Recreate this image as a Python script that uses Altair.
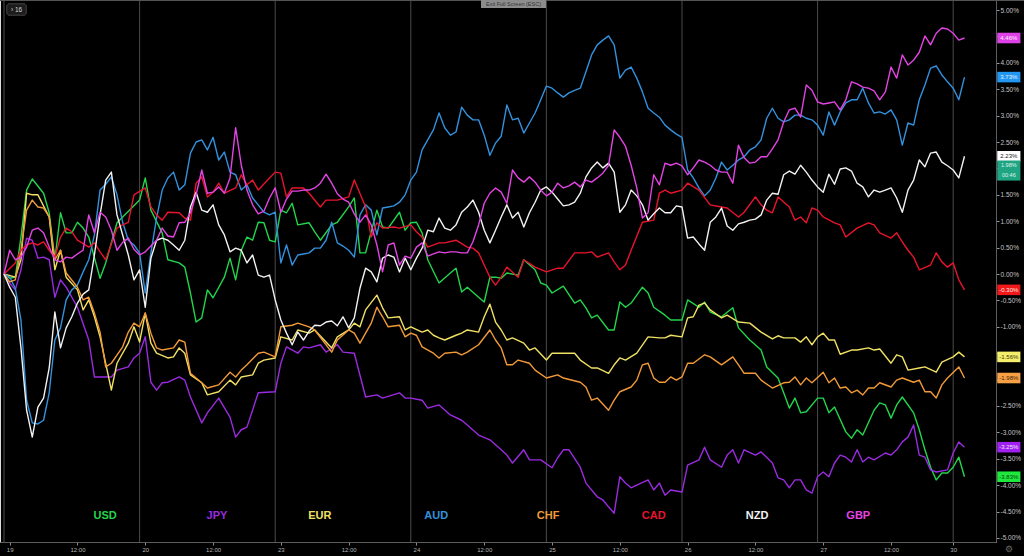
import altair as alt
import pandas as pd

# ---------------- data ----------------
CURRENCIES = ["USD", "JPY", "EUR", "AUD", "CHF", "CAD", "NZD", "GBP"]
LINE_COLORS = ["#22d64b", "#9a2be0", "#f0e064", "#3391dd", "#f29a38", "#e8142c", "#f2f2f2", "#e444e4"]
BOX_COLORS = ["#1ee83c", "#a020f0", "#f5ee6a", "#2196f3", "#f7a044", "#f01818", "#ffffff", "#e040e8"]
BOX_TEXT_COLORS = ["#0b3d12", "#f4e6ff", "#3a3510", "#e8f3ff", "#3d240a", "#ffe8e8", "#222222", "#fff0ff"]
LAST_LABELS = ["-3.83%", "-3.25%", "-1.56%", "3.73%", "-1.98%", "-0.30%", "2.23%", "4.46%"]

X_TICKS = [1, 13, 25, 37, 49, 61, 73, 85, 97, 109, 121, 133, 145, 157, 168]
X_TICK_LABELS = ["19", "12:00", "20", "12:00", "23", "12:00", "24", "12:00", "25", "12:00",
                 "26", "12:00", "27", "12:00", "30"]
DAY_STARTS = [0, 24, 48, 72, 96, 120, 144, 168]
Y_TICKS = [5.0, 4.5, 4.0, 3.5, 3.0, 2.5, 2.0, 1.5, 1.0, 0.5, 0.0,
           -0.5, -1.0, -1.5, -2.0, -2.5, -3.0, -3.5, -4.0, -4.5, -5.0]
# axis labels hidden behind the price boxes in the original
Y_HIDDEN = [4.5, 2.0, -1.5, -2.0]

HOURS_FULL = list(range(171))

USD_h = [0,1,2,3,4,5,7,8,9,10,11,12,13,14,15,17,18,20,24,25,26,28,29,31,32,33,34,35,36,37,
         39,40,41,42,43,44,45,46,47,48,49,50,51,52,54,55,56,58,59,61,62,63,64,66,67,68,70,71,72,73,
         74,75,77,79,80,81,82,84,85,86,87,88,89,91,92,94,95,96,97,99,101,102,103,104,105,107,108,109,110,111,
         113,114,115,117,118,120,121,123,124,125,127,129,130,132,134,135,137,138,139,140,
         141,142,144,145,146,147,149,150,151,152,154,155,156,157,158,159,161,162,163,164,165,166,167,168,169,170]
USD_v = [0.00,-0.08,-0.06,0.70,1.59,1.80,1.53,1.16,0.27,1.16,0.78,0.78,0.98,0.87,0.70,-0.08,0.21,0.97,1.40,1.82,
         1.21,0.78,0.27,0.21,0.13,-0.36,-0.91,-0.83,-0.30,-0.45,-0.06,0.30,-0.11,0.45,0.70,0.64,0.98,0.97,0.64,0.61,
         1.21,1.16,1.34,0.93,0.97,0.80,0.64,0.93,0.98,1.27,1.44,0.40,0.40,1.21,0.89,0.87,1.17,0.83,0.97,0.98,
         0.78,0.27,-0.17,0.02,0.11,-0.34,-0.25,-0.44,-0.53,-0.06,-0.06,-0.08,0.02,-0.02,0.27,0.08,-0.17,-0.21,-0.36,-0.23,
         -0.55,-0.49,-0.64,-0.83,-0.78,-1.06,-1.06,-0.53,-0.63,-0.55,-0.25,-0.36,-0.63,-0.78,-0.87,-0.87,-0.49,-0.63,-0.53,-0.72,
         -0.81,-0.64,-1.02,-1.25,-1.44,-1.76,-1.97,-2.25,-2.54,-2.35,-2.63,-2.61,-2.35,-2.35,-2.63,-2.52,-2.99,-3.11,-2.95,-3.05,
         -2.58,-2.44,-2.48,-2.73,-2.48,-2.33,-2.63,-2.95,-3.33,-3.66,-3.90,-3.77,-3.77,-3.66,-3.47,-3.84]

JPY_h = [0,1,2,3,4,5,6,7,8,9,10,11,13,15,16,19,20,22,23,24,25,26,27,28,29,31,32,33,35,36,
         38,40,41,42,43,45,48,49,50,52,53,54,56,57,59,60,62,64,66,67,70,71,72,74,75,77,79,81,82,84,
         86,88,89,90,92,93,95,97,98,99,100,102,103,105,106,107,108,109,110,111,112,114,115,116,117,118,120,121,123,124,
         125,127,128,129,130,131,133,134,136,137,138,139,140,141,142,143,144,145,146,147,148,149,150,151,152,153,154,156,157,158,
         159,160,161,162,163,164,165,167,168,169,170]
JPY_v = [0.00,-0.17,-0.30,0.08,0.68,0.64,0.30,0.32,0.27,-0.44,-0.11,-0.25,-0.63,-1.25,-1.95,-1.95,-1.82,-1.76,-1.59,-1.50,
         -1.19,-2.05,-2.20,-2.06,-2.05,-1.95,-2.01,-2.33,-2.82,-2.63,-2.35,-2.71,-3.09,-2.95,-2.90,-2.25,-2.23,-1.69,-1.38,-1.50,
         -1.38,-1.40,-1.34,-1.48,-1.34,-1.48,-1.50,-2.33,-2.29,-2.35,-2.25,-2.35,-2.35,-2.39,-2.54,-2.48,-2.67,-2.77,-2.86,-3.05,
         -3.14,-3.33,-3.43,-3.58,-3.33,-3.52,-3.52,-3.67,-3.48,-3.33,-3.33,-3.66,-3.96,-4.22,-4.28,-4.41,-4.53,-3.84,-3.96,-4.05,
         -4.00,-3.90,-4.09,-3.96,-4.19,-4.09,-4.13,-3.62,-3.52,-3.28,-3.52,-3.66,-3.43,-3.33,-3.58,-3.33,-3.43,-3.37,-3.58,-3.86,
         -3.90,-4.05,-3.90,-3.90,-4.09,-4.15,-3.84,-3.75,-3.84,-3.58,-3.43,-3.47,-3.56,-3.33,-3.56,-3.47,-3.52,-3.39,-3.43,-3.33,
         -3.18,-3.09,-2.86,-3.43,-3.47,-3.71,-3.75,-3.71,-3.39,-3.18,-3.28]

EUR_h = [0,2,3,4,5,6,8,9,10,11,13,14,15,16,17,19,20,22,23,24,25,26,27,29,30,31,32,33,35,36,
         38,40,41,42,44,45,46,48,49,51,52,54,55,58,59,61,62,63,64,66,67,68,70,71,72,74,75,76,77,78,
         80,81,82,84,85,86,87,88,89,90,92,93,94,96,97,98,101,102,104,105,107,108,109,110,112,114,116,117,118,120,
         121,122,123,124,125,127,128,130,132,134,136,137,138,140,141,142,143,144,145,146,147,148,150,151,153,154,155,157,158,159,
         160,162,163,165,166,168,169,170]
EUR_v = [0.00,-0.06,0.27,1.53,1.50,1.50,1.08,0.08,0.45,-0.06,-0.30,-0.68,-0.49,-0.81,-1.19,-2.20,-1.69,-1.31,-1.00,-1.29,
         -0.74,-1.31,-1.50,-1.59,-1.57,-1.40,-1.50,-1.91,-2.06,-2.29,-2.23,-2.01,-2.10,-1.95,-1.91,-1.69,-1.63,-1.59,-1.19,-1.25,
         -1.06,-1.12,-1.06,-1.40,-1.19,-1.06,-0.93,-1.00,-0.68,-0.40,-0.64,-0.83,-0.81,-1.06,-1.00,-1.10,-1.06,-1.16,-1.21,-1.25,
         -1.16,-1.12,-1.06,-1.10,-0.81,-0.57,-0.91,-1.06,-1.25,-1.21,-1.31,-1.44,-1.40,-1.63,-1.50,-1.50,-1.50,-1.63,-1.78,-1.78,
         -1.88,-1.72,-1.59,-1.63,-1.50,-1.19,-1.21,-1.21,-1.16,-1.19,-0.83,-0.81,-0.59,-0.55,-0.68,-0.83,-0.78,-0.91,-0.93,-1.10,
         -1.23,-1.17,-1.21,-1.21,-1.29,-1.19,-1.34,-1.19,-1.12,-1.25,-1.25,-1.52,-1.44,-1.44,-1.40,-1.44,-1.42,-1.69,-1.53,-1.57,
         -1.82,-1.78,-1.76,-1.86,-1.67,-1.57,-1.48,-1.57]

CHF_h = [0,1,2,3,4,5,6,7,8,9,10,11,13,14,15,16,17,18,19,21,22,23,24,25,26,27,28,30,31,32,
         33,35,36,38,40,41,42,43,45,46,48,49,51,52,54,55,58,59,61,62,63,65,66,67,68,70,71,72,73,74,
         76,77,78,80,81,82,84,86,87,88,89,90,91,93,94,96,98,99,102,103,104,105,107,108,109,111,112,113,114,115,
         116,117,118,119,120,121,122,124,125,127,129,130,131,133,134,136,138,139,140,141,142,143,145,146,147,148,149,150,151,152,
         153,154,155,157,158,159,161,162,163,164,165,166,167,169,170]
CHF_v = [0.00,-0.15,-0.11,0.45,1.21,1.40,1.27,1.25,1.08,0.27,0.45,0.02,-0.25,-0.49,-0.44,-0.74,-1.10,-1.76,-1.69,-1.38,
         -1.10,-0.93,-1.00,-0.74,-1.12,-1.40,-1.44,-1.40,-1.25,-1.29,-1.88,-2.06,-2.16,-2.10,-1.86,-1.95,-1.82,-1.72,-1.50,-1.48,
         -1.57,-1.00,-0.97,-0.93,-1.00,-1.06,-1.48,-1.25,-1.06,-1.12,-1.31,-0.93,-0.63,-0.81,-1.00,-0.97,-1.19,-1.12,-1.16,-1.38,
         -1.50,-1.59,-1.50,-1.48,-1.53,-1.48,-1.34,-1.06,-1.25,-1.40,-1.72,-1.72,-1.63,-1.69,-1.82,-1.97,-1.91,-1.97,-2.05,-2.14,
         -2.39,-2.35,-2.58,-2.39,-2.23,-2.14,-2.01,-1.72,-1.69,-1.97,-2.05,-2.05,-1.95,-2.01,-1.95,-1.69,-1.69,-1.53,-1.57,-1.72,
         -1.57,-1.72,-1.88,-1.88,-2.01,-2.16,-2.06,-2.05,-1.95,-2.10,-1.97,-2.06,-1.86,-2.06,-1.97,-2.16,-2.14,-2.25,-2.20,-2.29,
         -2.16,-2.16,-2.06,-2.14,-2.01,-1.97,-2.05,-2.01,-2.23,-2.23,-2.35,-2.10,-1.97,-1.76,-1.97]

AUD_v = [0.00,-0.06,-0.27,-0.87,-2.39,-2.82,-2.84,-2.77,-2.25,-1.25,
         -1.02,-0.49,-0.30,-0.21,0.04,0.27,0.74,1.59,1.70,1.84,
         1.50,0.98,0.64,0.55,0.40,-0.36,0.40,1.06,1.59,1.82,
         1.93,1.59,1.69,2.29,2.50,2.54,2.35,2.59,2.16,2.31,
         1.93,1.88,1.59,1.69,1.44,1.31,1.17,1.12,1.17,0.21,
         0.55,0.17,0.36,0.38,0.40,0.49,0.49,0.64,0.98,0.59,
         0.53,0.45,0.32,1.12,1.31,1.21,0.74,1.25,1.27,1.29,
         1.36,1.50,1.78,1.93,2.35,2.54,2.73,3.05,2.77,2.63,
         2.69,3.16,3.01,2.92,2.92,2.63,2.25,2.48,2.61,3.20,
         2.92,2.95,2.67,2.86,3.05,3.30,3.56,3.52,3.43,3.35,
         3.43,3.48,3.52,3.83,4.15,4.34,4.43,4.51,4.34,3.71,
         3.86,3.92,3.71,3.45,3.14,3.05,2.97,2.82,2.73,2.65,
         2.59,1.97,1.82,1.63,1.48,1.59,1.82,2.12,1.97,2.06,
         2.16,2.22,2.35,2.41,2.54,2.95,3.14,2.95,2.88,2.92,
         3.01,3.01,2.95,2.92,2.82,2.63,3.07,2.82,3.07,3.24,
         3.30,3.30,3.52,3.24,3.05,3.07,3.03,3.11,2.92,2.44,
         2.86,2.82,3.30,3.58,3.90,3.94,3.77,3.64,3.52,3.30,
         3.73]

CAD_h = [0,2,3,4,5,6,7,8,9,10,11,12,13,15,16,17,18,20,21,22,23,25,26,27,28,29,31,32,33,34,
         35,36,37,38,39,41,42,43,44,45,47,48,49,50,51,53,54,56,57,59,61,62,64,65,66,67,69,70,72,73,
         74,75,77,78,80,82,83,84,86,87,88,89,91,92,94,96,98,99,101,103,104,105,107,108,109,110,111,113,115,116,
         117,118,120,121,123,125,127,128,130,131,133,134,135,136,137,139,140,141,142,143,144,145,147,148,149,151,153,154,155,157,
         158,159,160,161,162,164,165,166,167,168,169,170]
CAD_v = [0.00,0.21,0.45,0.55,0.59,0.55,0.61,0.45,0.32,0.70,0.87,0.80,0.64,0.51,0.59,0.42,0.27,0.87,0.93,0.98,
         1.50,1.63,1.27,1.12,1.02,1.17,1.16,1.06,1.02,1.72,1.84,1.46,1.55,1.72,1.53,1.63,1.88,1.69,1.78,1.59,
         1.82,1.93,1.91,1.46,1.63,1.63,1.53,1.27,1.40,1.40,1.46,1.78,1.27,0.70,0.97,0.87,0.89,0.87,0.93,0.80,
         0.70,0.51,0.59,0.59,0.64,0.51,0.49,0.40,-0.06,-0.21,-0.06,0.13,-0.06,0.27,0.13,0.04,0.11,0.11,0.40,0.40,
         0.42,0.32,0.40,0.23,0.08,0.17,0.45,0.98,1.02,1.53,1.59,1.53,1.59,1.72,1.59,1.31,1.27,1.25,1.08,1.17,
         1.46,1.31,1.21,1.16,1.46,1.27,1.02,1.08,0.97,1.25,1.21,1.08,0.97,0.93,0.70,0.87,0.97,0.93,0.78,0.68,
         0.78,0.61,0.45,0.32,0.08,0.17,0.40,0.23,0.13,0.21,-0.11,-0.30]

NZD_v = [0.00,-0.25,-0.44,-1.40,-2.58,-3.09,-2.52,-2.35,-1.78,-0.72,
         -1.40,-1.02,-0.81,-0.55,-0.38,-0.30,0.36,1.12,1.78,1.93,
         1.12,0.74,0.36,-0.11,0.08,-0.63,0.30,0.64,0.68,0.64,
         0.55,0.45,0.64,1.27,1.55,1.21,1.17,1.31,0.93,0.74,
         0.42,0.49,0.45,0.21,0.36,-0.02,-0.06,-0.02,-0.49,-0.87,
         -1.12,-1.34,-1.10,-1.25,-1.08,-0.97,-0.98,-0.91,-0.89,-0.98,
         -0.81,-1.02,-0.83,-0.27,0.11,0.04,-0.15,0.30,0.36,0.32,
         0.04,0.30,0.08,0.30,0.49,0.83,0.80,1.06,0.87,0.83,
         0.93,1.17,1.27,1.40,1.17,0.83,0.59,0.83,1.08,1.31,
         1.06,1.17,0.89,1.16,1.36,1.59,1.65,1.55,1.42,1.29,
         1.31,1.36,1.53,1.84,2.01,2.12,2.01,2.10,1.93,1.17,
         1.31,1.59,1.48,1.31,1.02,1.14,1.25,1.16,1.16,1.29,
         1.27,0.68,0.70,0.57,0.45,0.98,1.08,1.25,0.91,0.83,
         0.95,0.98,1.02,1.04,1.12,1.40,1.53,1.51,1.88,1.95,
         1.89,2.06,1.93,1.78,1.65,1.55,1.89,1.70,1.99,2.01,
         1.95,1.72,1.65,1.46,1.59,1.55,1.59,1.63,1.44,1.17,
         1.59,1.78,2.16,2.03,2.29,2.31,2.12,2.05,1.97,1.82,
         2.23]

GBP_v = [0.00,0.45,0.27,0.32,0.51,0.83,0.87,0.78,0.51,0.27,
         0.23,0.32,0.30,0.38,0.45,1.12,0.78,1.17,1.08,0.83,
         0.45,0.60,0.68,0.47,0.36,0.42,0.53,0.64,0.87,0.72,
         0.70,0.97,0.98,1.16,1.50,1.97,1.53,1.55,1.65,1.53,
         1.82,2.77,2.06,1.59,1.31,1.14,1.19,1.44,1.63,1.17,
         1.42,1.57,1.57,1.59,1.59,1.63,1.72,1.89,1.72,1.52,
         1.42,1.36,1.14,0.98,1.12,0.93,0.55,0.04,0.55,0.59,
         0.17,0.34,0.30,0.51,0.59,0.34,0.38,0.42,0.40,0.42,
         0.42,0.40,0.40,0.61,0.93,1.34,1.53,1.63,1.55,1.34,
         1.97,1.82,1.74,1.84,1.74,1.59,1.48,1.55,1.72,1.63,
         1.67,1.74,1.65,1.78,1.74,1.82,1.91,2.06,2.73,2.59,
         2.42,2.06,1.63,1.06,1.16,1.88,1.69,2.10,2.06,2.10,
         2.05,1.88,2.01,2.16,2.12,2.06,1.97,1.93,1.93,1.72,
         2.44,2.20,2.10,2.12,2.22,2.22,2.37,2.54,2.88,3.11,
         3.14,2.97,3.58,3.48,3.26,3.22,3.24,3.26,3.11,3.30,
         3.64,3.60,3.54,3.52,3.47,3.30,3.45,3.92,3.71,4.15,
         3.96,4.05,4.20,4.51,4.34,4.56,4.66,4.64,4.56,4.43,
         4.47]

SERIES = {
    "USD": (USD_h, USD_v), "JPY": (JPY_h, JPY_v), "EUR": (EUR_h, EUR_v),
    "AUD": (HOURS_FULL, AUD_v), "CHF": (CHF_h, CHF_v), "CAD": (CAD_h, CAD_v),
    "NZD": (HOURS_FULL, NZD_v), "GBP": (HOURS_FULL, GBP_v),
}

# label positions for currency names (hour, value)
NAME_HOURS = [17.9, 37.7, 55.9, 76.5, 96.3, 115.0, 133.3, 151.2]
NAME_LEVEL = -4.58

# ---------------- frames ----------------
rows = []
for cur, (hs, vs) in SERIES.items():
    for h, v in zip(hs, vs):
        rows.append({"cur": cur, "h": h, "v": v})
lines_df = pd.DataFrame(rows)

sep_df = pd.DataFrame({"h": DAY_STARTS})
names_df = pd.DataFrame({"cur": CURRENCIES, "h": NAME_HOURS, "v": [NAME_LEVEL] * 8})

last_vals = [SERIES[c][1][-1] for c in CURRENCIES]
box_df = pd.DataFrame({
    "cur": CURRENCIES, "lab": LAST_LABELS, "fill": BOX_COLORS, "tc": BOX_TEXT_COLORS,
    "h": [175.8] * 8, "h2": [179.9] * 8, "hc": [177.85] * 8,
    "v": [x - 0.1 for x in last_vals], "v2": [x + 0.1 for x in last_vals], "vc": last_vals,
})
teal_df = pd.DataFrame({"h": [175.8], "h2": [179.9], "hc": [177.85],
                        "v": [1.77], "v2": [2.15], "a": [2.06], "b": [1.87],
                        "t1": ["1.98%"], "t2": ["00:46"]})

# ---------------- scales / axes ----------------
XS = alt.Scale(domain=[-0.71, 175.58], nice=False, zero=False)
YS = alt.Scale(domain=[-5.076, 5.19], nice=False, zero=False)

x_expr = ""
for val, lab in zip(X_TICKS, X_TICK_LABELS):
    x_expr += f"datum.value=={val}?'{lab}':"
x_expr += "''"

y_expr = ""
for val in Y_HIDDEN:
    y_expr += f"abs(datum.value-({val}))<0.001?'':"
y_expr += "(datum.value<0?'-':'')+format(abs(datum.value),'.2f')+'%'"

XA = alt.Axis(values=X_TICKS, labelExpr=x_expr, title=None, grid=False,
              domainColor="#5c5c5c", tickColor="#8a8a8a", tickSize=3,
              labelColor="#b4b4b4", labelFontSize=6, labelPadding=1,
              labelFlush=False, labelOverlap=False)
YA = alt.Axis(orient="right", values=Y_TICKS, title=None, grid=False,
              labelExpr=y_expr,
              domainColor="#5c5c5c", tickColor="#9a9a9a", tickSize=3,
              labelColor="#c4c4c4", labelFontSize=6.5, labelPadding=1,
              labelFlush=False, labelOverlap=False)


def X(f):
    return alt.X(f, type="quantitative", scale=XS, axis=XA)


def Y(f):
    return alt.Y(f, type="quantitative", scale=YS, axis=YA)


COLOR = alt.Color("cur:N", scale=alt.Scale(domain=CURRENCIES, range=LINE_COLORS), legend=None)

seps = alt.Chart(sep_df).mark_rule(color="#4a4a4a", strokeWidth=1).encode(x=X("h"))

lines = alt.Chart(lines_df).mark_line(strokeWidth=1.4, strokeJoin="round").encode(
    x=X("h"), y=Y("v"), color=COLOR, detail="cur:N", order="h:Q")

names = alt.Chart(names_df).mark_text(fontSize=11, fontWeight="bold", font="Liberation Sans",
                                      align="center", baseline="middle").encode(
    x=X("h"), y=Y("v"), text="cur:N", color=COLOR)

boxes = alt.Chart(box_df).mark_rect().encode(
    x=X("h"), x2="h2", y=Y("v"), y2="v2", fill=alt.Fill("fill:N", scale=None))
box_text = alt.Chart(box_df).mark_text(fontSize=6, font="Liberation Sans",
                                       align="center", baseline="middle").encode(
    x=X("hc"), y=Y("vc"), text="lab:N", color=alt.Color("tc:N", scale=None))

teal = alt.Chart(teal_df).mark_rect(color="#1fa582").encode(x=X("h"), x2="h2", y=Y("v"), y2="v2")
teal_t1 = alt.Chart(teal_df).mark_text(fontSize=5.5, color="#dff5ee", font="Liberation Sans",
                                       baseline="middle").encode(x=X("hc"), y=Y("a"), text="t1:N")
teal_t2 = alt.Chart(teal_df).mark_text(fontSize=5.5, color="#dff5ee", font="Liberation Sans",
                                       baseline="middle").encode(x=X("hc"), y=Y("b"), text="t2:N")

# frame / UI decorations
top_line = alt.Chart(sep_df).mark_rule(color="#555555", strokeWidth=2).encode(
    x=alt.value(0), x2=alt.value(1024), y=alt.value(0))
badge = alt.Chart(sep_df).mark_rect(fill="#1c1c1c", stroke="#333333", cornerRadius=2).encode(
    x=alt.value(7), x2=alt.value(26), y=alt.value(4), y2=alt.value(15))
badge_t = alt.Chart(pd.DataFrame({"t": ["› 16"]})).mark_text(
    fontSize=6.5, color="#d8d8d8", font="Liberation Sans", align="center", baseline="middle").encode(
    x=alt.value(16.5), y=alt.value(9.5), text="t:N")
exit_box = alt.Chart(sep_df).mark_rect(fill="#8c8c8c", opacity=0.85, cornerRadius=1).encode(
    x=alt.value(481), x2=alt.value(546), y=alt.value(0), y2=alt.value(8))
exit_t = alt.Chart(pd.DataFrame({"t": ["Exit Full Screen (ESC)"]})).mark_text(
    fontSize=5.5, color="#333333", font="Liberation Sans", align="center", baseline="middle").encode(
    x=alt.value(513.5), y=alt.value(4), text="t:N")
gear = alt.Chart(pd.DataFrame({"t": ["⚙"]})).mark_text(
    fontSize=9, color="#6a6a6a", font="DejaVu Sans", align="center", baseline="middle").encode(
    x=alt.value(1009), y=alt.value(549), text="t:N")

chart = alt.layer(
    seps, lines, names, boxes, box_text, teal, teal_t1, teal_t2,
    top_line, badge, badge_t, exit_box, exit_t, gear,
).properties(
    width=996, height=542,
    padding={"left": 0, "top": 0, "right": 28, "bottom": 14},
    autosize=alt.AutoSizeParams(type="none"),
    background="#000000",
).configure_view(strokeWidth=0).configure(font="Liberation Sans")

chart.save("out.html", embed_options={"renderer": "svg", "actions": False})
